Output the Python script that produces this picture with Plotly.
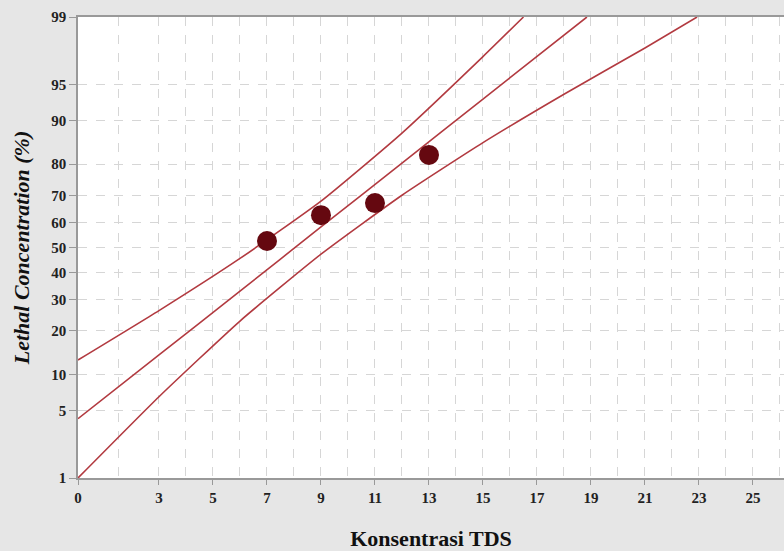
import plotly.graph_objects as go
from statistics import NormalDist

nd = NormalDist()
def probit(p):
    return nd.inv_cdf(p / 100.0)

# Observed data
conc = [7, 9, 11, 13]
lethal_pct = [52.6, 62.8, 67.3, 82.5]

# Curves (x in concentration, y in percent)
upper_x = [0, 3, 6, 9, 12, 15, 16.5]
upper_y = [12.8, 26.2, 45.6, 68.0, 87.6, 97.3, 99]
mid_x = [0, 3, 6, 9, 12, 15, 18.85]
mid_y = [4.2, 13.9, 33.0, 58.2, 80.3, 93.3, 99]
lower_x = [0, 3, 6, 9, 12, 15, 18, 21, 22.93]
lower_y = [1.0, 6.6, 22.9, 47.3, 70.1, 85.5, 93.9, 97.8, 99]

x_ticks = [0, 3, 5, 7, 9, 11, 13, 15, 17, 19, 21, 23, 25]
x_minor = [1.5, 4, 6, 8, 10, 12, 14, 16, 18, 20, 22, 24, 26]
y_ticks = [1, 5, 10, 20, 30, 40, 50, 60, 70, 80, 90, 95, 99]

line_color = "#b23a40"
fig = go.Figure()
for xs, ys in [(upper_x, upper_y), (mid_x, mid_y), (lower_x, lower_y)]:
    fig.add_trace(go.Scatter(x=xs, y=[probit(v) for v in ys], mode="lines",
                             line=dict(color=line_color, width=1.6, shape="spline", smoothing=0.5),
                             showlegend=False, hoverinfo="skip"))
fig.add_trace(go.Scatter(x=conc, y=[probit(v) for v in lethal_pct], mode="markers",
                         marker=dict(color="#650810", size=20, line=dict(width=0)), showlegend=False))

tickfont = dict(family="Liberation Serif", size=15, color="#222", weight="bold")
fig.update_layout(
    width=784, height=551,
    paper_bgcolor="#e6e6e6", plot_bgcolor="white",
    margin=dict(l=78, r=0, t=17, b=73),
    xaxis=dict(range=[0, 26.15], tickmode="array", tickvals=x_ticks, ticktext=[str(v) for v in x_ticks],
               tickfont=tickfont, ticks="outside", ticklen=5, tickcolor="#999",
               showgrid=True, gridcolor="#d6d6d6", griddash="dash", gridwidth=1,
               minor=dict(tickmode="array", tickvals=x_minor, showgrid=True, gridcolor="#d6d6d6",
                          griddash="dash", gridwidth=1, ticks=""),
               showline=True, linecolor="#999", linewidth=1.5, mirror=True, zeroline=False,
               title=dict(text="Konsentrasi TDS", font=dict(family="Liberation Serif", size=22, color="#111", weight="bold"),
                          standoff=27)),
    yaxis=dict(range=[probit(1), probit(99)], tickmode="array", tickvals=[probit(v) for v in y_ticks],
               ticktext=[str(v) for v in y_ticks], tickfont=tickfont, ticks="outside", ticklen=7, tickcolor="#999",
               showgrid=True, gridcolor="#d6d6d6", griddash="dash", gridwidth=1,
               showline=True, linecolor="#999", linewidth=1.5, zeroline=False,
               title=dict(text="<i>Lethal Concentration (%)</i>",
                          font=dict(family="Liberation Serif", size=22, color="#111", weight="bold"), standoff=16)),
)
fig.write_html("out.html", config={"displayModeBar": False},
               post_script="document.body.style.margin='0px';document.body.style.background='#e6e6e6';")
